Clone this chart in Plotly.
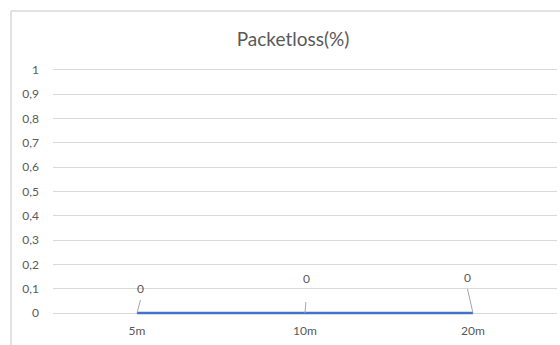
import plotly.graph_objects as go

# Measured packet loss per distance
distances = ["5m", "10m", "20m"]
packetloss = [0, 0, 0]

# Pixel offsets of the data labels and of their leader-line ends
label_dx = [3, 1, -6]
label_dy = [-25, -35, -36]
leader_dx = [4, 1, -6]
leader_dy = [-15, -13, -26]

y_ticks = [i / 10 for i in range(11)]

FONT = "Lato, 'Open Sans', sans-serif"
TEXT = "#595959"
GRID = "#D9D9D9"

# Small padding so the series line at 0 is not clipped by the plot area
Y_MIN, Y_MAX = -0.0082, 1.0082

fig = go.Figure()
fig.add_trace(go.Scatter(
    x=distances, y=packetloss, mode="lines",
    line=dict(color="#4472C4", width=2.5),
    hoverinfo="skip", showlegend=False,
))

for xv, yv, tx, ty, lx, ly in zip(distances, packetloss, label_dx, label_dy,
                                  leader_dx, leader_dy):
    # leader line
    fig.add_annotation(
        x=xv, y=yv, text=" ", ax=lx, ay=ly,
        showarrow=True, arrowhead=0, arrowwidth=1, arrowcolor="#A6A6A6",
        standoff=0, font=dict(size=1),
    )
    # data label
    fig.add_annotation(
        x=xv, y=yv, text=f"{yv:g}", xshift=tx, yshift=-ty,
        showarrow=False, font=dict(family=FONT, size=12, color=TEXT),
    )

# Chart-area frame (left and top edges), in paper units of the 504x247 plot
fx = (11 - 53) / 504
fy = 1 + (68 - 11) / 247
fig.add_shape(type="line", xref="paper", yref="paper",
              x0=fx, x1=fx, y0=fy, y1=-0.3,
              line=dict(color=GRID, width=1.5))
fig.add_shape(type="line", xref="paper", yref="paper",
              x0=fx, x1=1.2, y0=fy, y1=fy,
              line=dict(color=GRID, width=1.5))

fig.update_layout(
    width=560, height=345,
    margin=dict(l=53, r=3, t=68, b=30),
    paper_bgcolor="white", plot_bgcolor="white",
    separators=", ",
    font=dict(family=FONT, color=TEXT),
    title=dict(text="Packetloss(%)", x=(293 - 53) / 504, xref="paper",
               xanchor="center", y=1 - 39 / 345, yref="container",
               yanchor="middle",
               font=dict(family=FONT, size=19, color=TEXT)),
    xaxis=dict(type="category", range=[-0.5, 2.5], showgrid=False,
               showline=False, zeroline=False, ticks="",
               tickfont=dict(family=FONT, size=12, color=TEXT),
               ticklabelstandoff=7),
    yaxis=dict(range=[Y_MIN, Y_MAX], tickvals=y_ticks, showgrid=True,
               gridcolor=GRID, gridwidth=1, zeroline=True,
               zerolinecolor=GRID, zerolinewidth=1, showline=False,
               ticks="", ticklabelstandoff=13,
               tickfont=dict(family=FONT, size=12, color=TEXT)),
)

fig.write_html("out.html")
